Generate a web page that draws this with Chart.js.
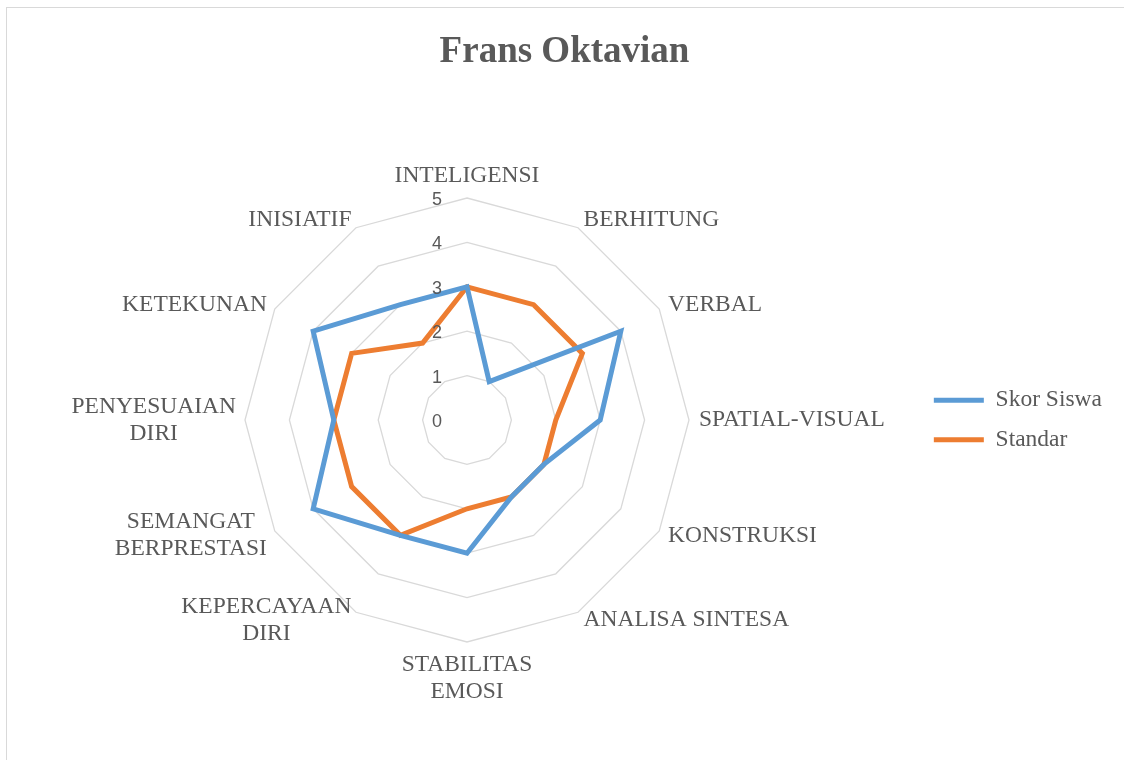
<!DOCTYPE html>
<html>
<head>
<meta charset="utf-8">
<script src="https://cdn.jsdelivr.net/npm/chart.js@4.4.0/dist/chart.umd.min.js"></script>
<style>
  html, body { margin: 0; padding: 0; background: #fff; overflow: hidden; }
  #frame { position: absolute; left: 6px; top: 7px; width: 1140px; height: 770px; border: 1px solid #d9d9d9; }
  #wrap { position: absolute; left: 7px; top: 8px; width: 1121px; height: 752px; }
</style>
</head>
<body>
<div id="frame"></div>
<div id="wrap"><canvas id="radarChart"></canvas></div>
<script>
const categories = [
  'INTELIGENSI', 'BERHITUNG', 'VERBAL', 'SPATIAL-VISUAL', 'KONSTRUKSI',
  'ANALISA SINTESA', ['STABILITAS', 'EMOSI'], ['KEPERCAYAAN', 'DIRI'],
  ['SEMANGAT', 'BERPRESTASI'], ['PENYESUAIAN', 'DIRI'], 'KETEKUNAN', 'INISIATIF'
];
const skorSiswa = [3, 1, 4, 3, 2, 2, 3, 3, 4, 3, 4, 3];
const standar = [3, 3, 3, 2, 2, 2, 2, 3, 3, 3, 3, 2];
const tickValues = [0, 1, 2, 3, 4, 5];

const serif = '"Liberation Serif", "Times New Roman", serif';

// tick numbers sit left of the vertical axis, drawn over the lines
const tickLabels = {
  id: 'tickLabels',
  afterDatasetsDraw(chart) {
    const r = chart.scales.r;
    const ctx = chart.ctx;
    ctx.save();
    ctx.font = '18px "Liberation Sans", Arial, sans-serif';
    ctx.fillStyle = '#595959';
    ctx.textAlign = 'center';
    ctx.textBaseline = 'middle';
    tickValues.forEach(v => {
      const y = r.yCenter - r.getDistanceFromCenterForValue(v);
      ctx.fillText(String(v), r.xCenter - 30, y + 2);
    });
    ctx.restore();
  }
};

// category names placed the Excel way: side labels centred on their spoke
const categoryLabels = {
  id: 'categoryLabels',
  afterDraw(chart) {
    const r = chart.scales.r;
    const ctx = chart.ctx;
    const lineH = 27;
    ctx.save();
    ctx.font = '23.5px ' + serif;
    ctx.fillStyle = '#595959';
    ctx.textAlign = 'center';
    ctx.textBaseline = 'middle';
    categories.forEach((label, i) => {
      const lines = Array.isArray(label) ? label : [label];
      const p = r.getPointPosition(i, r.drawingArea + 9);
      const deg = i * 360 / categories.length;
      const w = Math.max(...lines.map(l => ctx.measureText(l).width));
      const h = lines.length * lineH;
      let cx, top;
      if (deg === 0) { cx = p.x; top = p.y - h; }
      else if (deg === 180) { cx = p.x; top = p.y; }
      else if (deg < 180) { cx = p.x + 1 + w / 2; top = p.y - h / 2; }
      else { cx = p.x - w / 2; top = p.y - h / 2; }
      lines.forEach((line, k) => ctx.fillText(line, cx, top + lineH * (k + 0.5)));
    });
    ctx.restore();
  }
};

const ctx = document.getElementById('radarChart').getContext('2d');
const radarChart = new Chart(ctx, {
  type: 'radar',
  data: {
    labels: categories,
    datasets: [{
      label: 'Skor Siswa',
      data: skorSiswa,
      borderColor: '#5b9bd5',
      backgroundColor: '#5b9bd5',
      borderWidth: 5,
      borderCapStyle: 'round',
      fill: false,
      pointRadius: 0,
      pointHoverRadius: 0
    }, {
      label: 'Standar',
      data: standar,
      borderColor: '#ed7d31',
      backgroundColor: '#ed7d31',
      borderWidth: 5,
      borderCapStyle: 'round',
      fill: false,
      pointRadius: 0,
      pointHoverRadius: 0
    }]
  },
  options: {
    responsive: true,
    maintainAspectRatio: false,
    animation: false,
    layout: {
      padding: { left: 10, right: 16, top: 0, bottom: 118 }
    },
    scales: {
      r: {
        min: 0,
        max: 5,
        ticks: { stepSize: 1, display: false },
        grid: { color: '#d9d9d9', lineWidth: 1.3 },
        angleLines: { display: false },
        pointLabels: { display: false }
      }
    },
    plugins: {
      title: {
        display: true,
        text: 'Frans Oktavian',
        color: '#595959',
        font: { family: serif, size: 37, weight: 'bold' },
        padding: { top: 22, bottom: 123.6 }
      },
      legend: {
        position: 'right',
        fullSize: false,
        labels: {
          usePointStyle: true,
          pointStyle: 'line',
          pointStyleWidth: 50,
          boxHeight: 5,
          color: '#595959',
          font: { family: serif, size: 23.5 },
          padding: 16
        }
      },
      tooltip: { enabled: false }
    }
  },
  plugins: [tickLabels, categoryLabels]
});
</script>
</body>
</html>
